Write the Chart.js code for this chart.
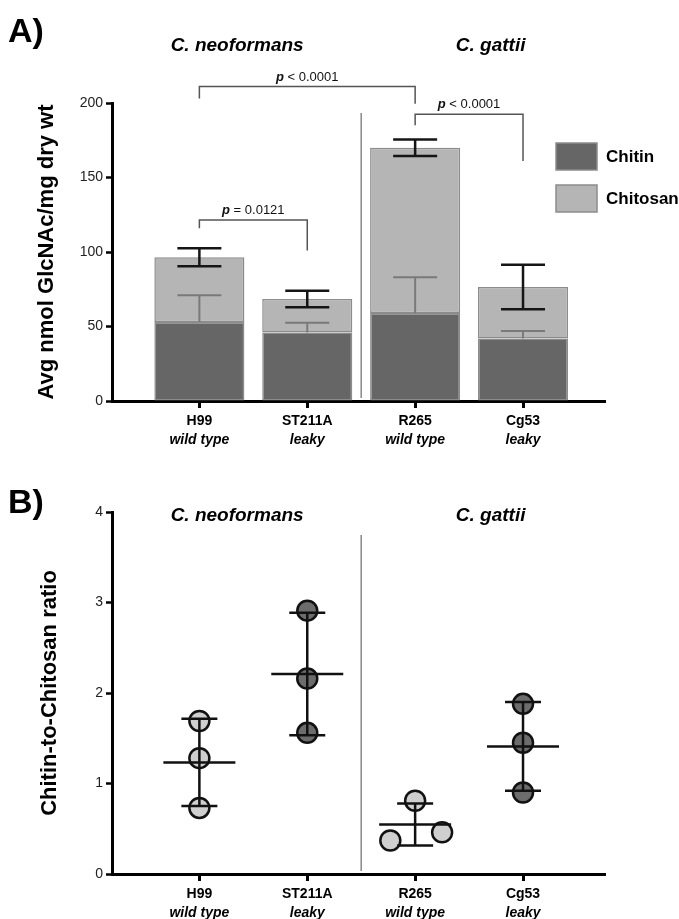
<!DOCTYPE html>
<html>
<head>
<meta charset="utf-8">
<script src="https://cdn.jsdelivr.net/npm/chart.js@4.4.1/dist/chart.umd.min.js"></script>
<style>
  body { margin: 0; background: #fff; }
  canvas { position: absolute; left: 0; }
</style>
</head>
<body>
<canvas id="chartA" width="679" height="460" style="top:0"></canvas>
<canvas id="chartB" width="679" height="459" style="top:460px"></canvas>
<script>
const strains = ['H99', 'ST211A', 'R265', 'Cg53'];
const phenotypes = ['wild type', 'leaky', 'wild type', 'leaky'];
const species = ['C. neoformans', 'C. gattii'];

// Panel A - avg nmol GlcNAc / mg dry wt
const chitin = [53, 46, 59, 42];
const chitinSd = [18, 6.5, 24, 5];
const chitosan = [43.5, 22.5, 111, 34.5];
const totalSd = [6, 5.5, 5.5, 15];

// Panel B - chitin-to-chitosan ratio, 3 replicates each
const ratioH99 = [1.69, 1.28, 0.73];
const ratioST211A = [2.91, 2.16, 1.56];
const ratioR265 = [0.81, 0.37, 0.46];
const ratioCg53 = [1.88, 1.45, 0.90];
const jitterR265 = [0, -0.23, 0.25];

// significance brackets (values in GlcNAc units)
const brackets = [
  { from: 0, to: 2, y: 211, leftEnd: 203, rightEnd: 199.5, sign: '<', p: '0.0001' },
  { from: 2, to: 3, y: 192.5, leftEnd: 185, rightEnd: 161, sign: '<', p: '0.0001' },
  { from: 0, to: 1, y: 121.5, leftEnd: 116, rightEnd: 101, sign: '=', p: '0.0121' }
];

const FONT = "'Liberation Sans', Arial, Helvetica, sans-serif";
const CHITIN_COLOR = '#666666';
const CHITOSAN_COLOR = '#b5b5b5';

function line(ctx, x1, y1, x2, y2) {
  ctx.beginPath();
  ctx.moveTo(x1, y1);
  ctx.lineTo(x2, y2);
  ctx.stroke();
}

// panel letter, species headers, italic second line of labels, separator
const panelText = {
  id: 'panelText',
  beforeDatasetsDraw(chart, args, opts) {
    const { ctx, chartArea } = chart;
    const sx = chart.scales.x.getPixelForValue(1.5);
    ctx.save();
    ctx.strokeStyle = '#888';
    ctx.lineWidth = 1.5;
    line(ctx, sx, opts.sepTop, sx, chartArea.bottom - 3);
    ctx.restore();
  },
  afterDraw(chart, args, opts) {
    const { ctx, chartArea } = chart;
    const x = chart.scales.x;
    ctx.save();
    ctx.fillStyle = '#000';
    ctx.textBaseline = 'middle';
    ctx.textAlign = 'left';
    ctx.font = `bold 34px ${FONT}`;
    ctx.fillText(opts.letter, 8, opts.letterY);
    ctx.textAlign = 'center';
    ctx.font = `italic bold 19px ${FONT}`;
    ctx.fillText(species[0], x.getPixelForValue(0.35), opts.speciesY);
    ctx.fillText(species[1], x.getPixelForValue(2.7), opts.speciesY);
    ctx.font = `italic bold 14px ${FONT}`;
    phenotypes.forEach((p, i) => {
      ctx.fillText(p, x.getPixelForValue(i), chartArea.bottom + 39);
    });
    ctx.restore();
  }
};

const errorBars = {
  id: 'errorBars',
  afterDatasetsDraw(chart) {
    const { ctx, scales: { x, y } } = chart;
    const cap = 22;
    ctx.save();
    strains.forEach((s, i) => {
      const cx = x.getPixelForValue(i);
      // chitin, upper half only
      const c0 = y.getPixelForValue(chitin[i]);
      const c1 = y.getPixelForValue(chitin[i] + chitinSd[i]);
      ctx.strokeStyle = '#7a7a7a';
      ctx.lineWidth = 2;
      line(ctx, cx, c0, cx, c1);
      line(ctx, cx - cap, c1, cx + cap, c1);
      // total
      const total = chitin[i] + chitosan[i];
      const hi = y.getPixelForValue(total + totalSd[i]);
      const lo = y.getPixelForValue(total - totalSd[i]);
      ctx.strokeStyle = '#151515';
      ctx.lineWidth = 2.5;
      line(ctx, cx, hi, cx, lo);
      line(ctx, cx - cap, hi, cx + cap, hi);
      line(ctx, cx - cap, lo, cx + cap, lo);
    });
    ctx.restore();
  }
};

const sigBrackets = {
  id: 'sigBrackets',
  afterDraw(chart) {
    const { ctx, scales: { x, y } } = chart;
    ctx.save();
    ctx.strokeStyle = '#555';
    ctx.lineWidth = 1.5;
    ctx.fillStyle = '#111';
    ctx.textBaseline = 'alphabetic';
    brackets.forEach(b => {
      const x1 = x.getPixelForValue(b.from);
      const x2 = x.getPixelForValue(b.to);
      const yy = y.getPixelForValue(b.y);
      ctx.beginPath();
      ctx.moveTo(x1, y.getPixelForValue(b.leftEnd));
      ctx.lineTo(x1, yy);
      ctx.lineTo(x2, yy);
      ctx.lineTo(x2, y.getPixelForValue(b.rightEnd));
      ctx.stroke();
      const pPart = 'p';
      const rest = ' ' + b.sign + ' ' + b.p;
      ctx.font = `italic bold 13px ${FONT}`;
      const w1 = ctx.measureText(pPart).width;
      ctx.font = `13px ${FONT}`;
      const w2 = ctx.measureText(rest).width;
      const start = (x1 + x2) / 2 - (w1 + w2) / 2;
      ctx.textAlign = 'left';
      ctx.font = `italic bold 13px ${FONT}`;
      ctx.fillText(pPart, start, yy - 6);
      ctx.font = `13px ${FONT}`;
      ctx.fillText(rest, start + w1, yy - 6);
    });
    ctx.restore();
  }
};

const boxLegend = {
  id: 'boxLegend',
  afterDraw(chart) {
    const { ctx } = chart;
    ctx.save();
    chart.data.datasets.forEach((ds, i) => {
      const top = 143 + i * 42;
      ctx.fillStyle = ds.backgroundColor;
      ctx.fillRect(556, top, 41, 27);
      ctx.strokeStyle = '#8c8c8c';
      ctx.lineWidth = 1.5;
      ctx.strokeRect(556, top, 41, 27);
      ctx.fillStyle = '#000';
      ctx.font = `bold 17px ${FONT}`;
      ctx.textBaseline = 'middle';
      ctx.textAlign = 'left';
      ctx.fillText(ds.label, 606, top + 14);
    });
    ctx.restore();
  }
};

const meanSd = {
  id: 'meanSd',
  afterDatasetsDraw(chart) {
    const { ctx, scales: { x, y } } = chart;
    const groups = [ratioH99, ratioST211A, ratioR265, ratioCg53];
    ctx.save();
    ctx.strokeStyle = '#111';
    ctx.lineWidth = 2.5;
    groups.forEach((vals, i) => {
      const n = vals.length;
      const mean = vals.reduce((a, b) => a + b, 0) / n;
      const sd = Math.sqrt(vals.reduce((a, b) => a + (b - mean) ** 2, 0) / (n - 1));
      const cx = x.getPixelForValue(i);
      const m = y.getPixelForValue(mean);
      const hi = y.getPixelForValue(mean + sd);
      const lo = y.getPixelForValue(mean - sd);
      line(ctx, cx, hi, cx, lo);
      line(ctx, cx - 36, m, cx + 36, m);
      line(ctx, cx - 18, hi, cx + 18, hi);
      line(ctx, cx - 18, lo, cx + 18, lo);
    });
    ctx.restore();
  }
};

function xScale(height) {
  return {
    type: 'linear',
    min: -0.81,
    max: 3.76,
    offset: false,
    afterBuildTicks: scale => { scale.ticks = strains.map((s, i) => ({ value: i })); },
    afterFit: scale => { scale.height = height; },
    ticks: {
      callback: v => strains[v],
      autoSkip: false,
      maxRotation: 0,
      color: '#000',
      padding: 5,
      font: { family: FONT, size: 14, weight: 'bold' }
    },
    grid: { offset: false, drawOnChartArea: false, tickLength: 7, tickWidth: 3, tickColor: '#000' },
    border: { color: '#000', width: 3 }
  };
}

function yScale(max, step, title, titleGap) {
  return {
    min: 0,
    max: max,
    afterFit: scale => { scale.width = 112; },
    ticks: { stepSize: step, color: '#222', padding: 3, font: { family: FONT, size: 14 } },
    grid: { drawOnChartArea: false, tickLength: 6, tickWidth: 2.5, tickColor: '#000' },
    border: { color: '#000', width: 3 },
    title: {
      display: true,
      text: title,
      color: '#000',
      padding: { top: titleGap, bottom: 0 },
      font: { family: FONT, size: 22, weight: 'bold' }
    }
  };
}

const barData = (vals) => vals.map((v, i) => ({ x: i, y: v }));

new Chart(document.getElementById('chartA'), {
  type: 'bar',
  data: {
    datasets: [
      {
        label: 'Chitin',
        data: barData(chitin),
        backgroundColor: CHITIN_COLOR,
        borderColor: '#8c8c8c',
        borderWidth: 1.5,
        borderSkipped: false,
        barPercentage: 0.835,
        categoryPercentage: 1
      },
      {
        label: 'Chitosan',
        data: barData(chitosan),
        backgroundColor: CHITOSAN_COLOR,
        borderColor: '#8c8c8c',
        borderWidth: 1.5,
        borderSkipped: false,
        barPercentage: 0.835,
        categoryPercentage: 1
      }
    ]
  },
  options: {
    responsive: false,
    animation: false,
    devicePixelRatio: 1,
    layout: { padding: { top: 103, right: 74, left: 0, bottom: 0 } },
    scales: {
      x: { ...xScale(59), stacked: true },
      y: { ...yScale(200, 50, 'Avg nmol GlcNAc/mg dry wt', 34), stacked: true }
    },
    plugins: {
      legend: { display: false },
      tooltip: { enabled: false },
      panelText: { letter: 'A)', letterY: 33, speciesY: 46, sepTop: 113 }
    }
  },
  plugins: [panelText, errorBars, sigBrackets, boxLegend]
});

const points = (vals, idx, jitter) => vals.map((v, k) => ({ x: idx + (jitter ? jitter[k] : 0), y: v }));

new Chart(document.getElementById('chartB'), {
  type: 'scatter',
  data: {
    datasets: [
      {
        label: 'wild type',
        data: [...points(ratioH99, 0), ...points(ratioR265, 2, jitterR265)],
        backgroundColor: '#cfcfcf',
        borderColor: '#111',
        borderWidth: 2.5,
        pointRadius: 10
      },
      {
        label: 'leaky',
        data: [...points(ratioST211A, 1), ...points(ratioCg53, 3)],
        backgroundColor: '#6c6c6c',
        borderColor: '#111',
        borderWidth: 2.5,
        pointRadius: 10
      }
    ]
  },
  options: {
    responsive: false,
    animation: false,
    devicePixelRatio: 1,
    layout: { padding: { top: 52, right: 74, left: 0, bottom: 0 } },
    scales: {
      x: xScale(45),
      y: yScale(4, 1, 'Chitin-to-Chitosan ratio', 37)
    },
    plugins: {
      legend: { display: false },
      tooltip: { enabled: false },
      panelText: { letter: 'B)', letterY: 44, speciesY: 56, sepTop: 75 }
    }
  },
  plugins: [panelText, meanSd]
});
</script>
</body>
</html>
